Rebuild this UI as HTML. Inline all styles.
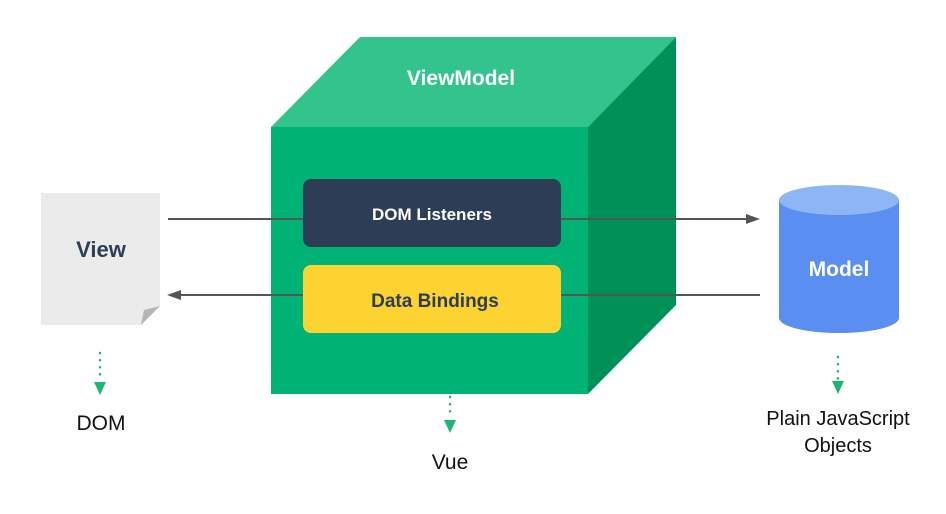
<!DOCTYPE html>
<html><head><meta charset="utf-8"><style>
html,body{margin:0;padding:0;background:#fff;}
svg{display:block;}
text{font-family:"Liberation Sans",sans-serif;}
</style></head><body>
<svg width="946" height="514" viewBox="0 0 946 514" xmlns="http://www.w3.org/2000/svg">
<polygon points="41,193 160,193 160,306 141,325 41,325" fill="#ebebeb"/>
<polygon points="160,306 141,325 144,310" fill="#b5b5b5"/>
<text x="101" y="257" font-size="22" font-weight="bold" fill="#2c3e55" text-anchor="middle">View</text>
<polygon points="271,127 360,37 676,37 588,127" fill="#33c38c"/>
<polygon points="588,127 676,37 676,305 588,394" fill="#009158"/>
<rect x="271" y="127" width="317" height="267" fill="#00b375"/>
<text x="461" y="85" font-size="21" font-weight="bold" fill="#fff" text-anchor="middle">ViewModel</text>
<line x1="168" y1="219" x2="748" y2="219" stroke="#555" stroke-width="2"/>
<polygon points="760,219 746,214 746,224" fill="#555"/>
<line x1="180" y1="295" x2="760" y2="295" stroke="#555" stroke-width="2"/>
<polygon points="167,295 181,290 181,300" fill="#555"/>
<rect x="303" y="179" width="258" height="68" rx="8" fill="#2c3e55"/>
<text x="432" y="220" font-size="17" font-weight="bold" fill="#fff" text-anchor="middle">DOM Listeners</text>
<rect x="303" y="265" width="258" height="68" rx="8" fill="#fdd331"/>
<text x="435" y="307" font-size="19" font-weight="bold" fill="#2c3e55" text-anchor="middle">Data Bindings</text>
<path d="M779,200 L779,318 A60,15 0 0 0 899,318 L899,200 Z" fill="#5a8ef0"/>
<ellipse cx="839" cy="200" rx="60" ry="15" fill="#8db6f6"/>
<text x="839" y="276" font-size="21" font-weight="bold" fill="#fff" text-anchor="middle">Model</text>
<g stroke="#1db676" stroke-width="2.5" stroke-dasharray="0.1,7" stroke-linecap="round">
<line x1="100" y1="353" x2="100" y2="381"/>
<line x1="450" y1="397" x2="450" y2="418"/>
<line x1="838" y1="357" x2="838" y2="380"/>
</g>
<g fill="#1db676">
<polygon points="94,382 106,382 100,395"/>
<polygon points="444,420 456,420 450,433"/>
<polygon points="832,381 844,381 838,394"/>
</g>
<text x="101" y="430" font-size="21" fill="#111" text-anchor="middle">DOM</text>
<text x="450" y="469" font-size="21" fill="#111" text-anchor="middle">Vue</text>
<text x="838" y="425" font-size="20" fill="#111" text-anchor="middle">Plain JavaScript</text>
<text x="838" y="452" font-size="20" fill="#111" text-anchor="middle">Objects</text>
</svg>
</body></html>
